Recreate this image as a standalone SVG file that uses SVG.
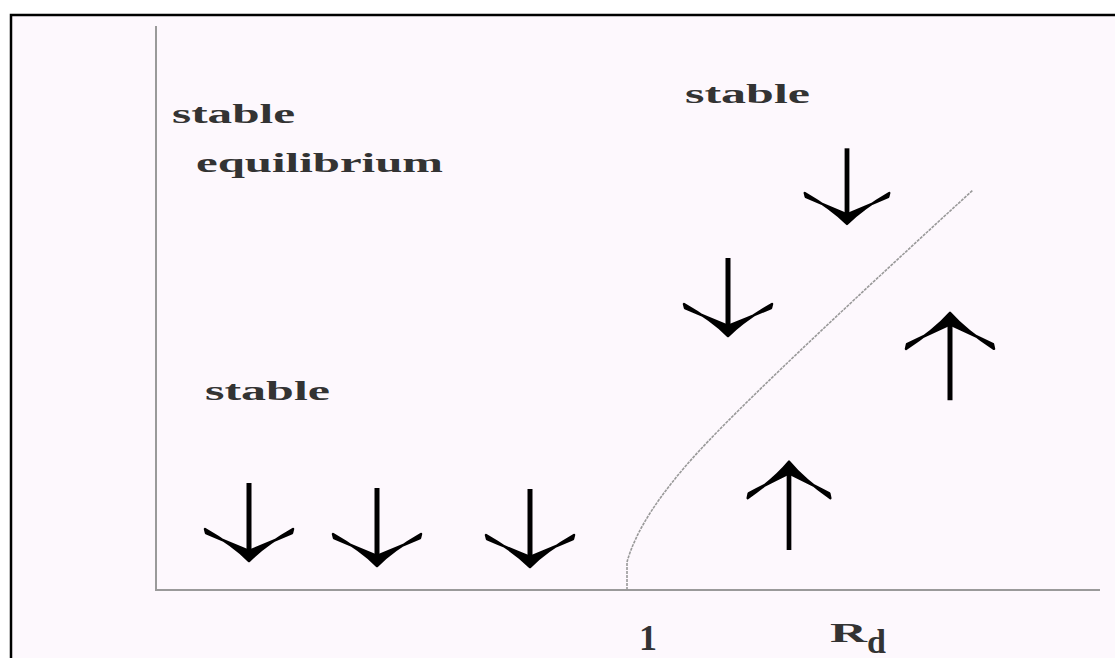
<svg xmlns="http://www.w3.org/2000/svg" xmlns:xlink="http://www.w3.org/1999/xlink" width="1115" height="658" viewBox="0 0 1115 658">
<style>
.lbl{font-family:"Liberation Serif","DejaVu Serif",serif;font-weight:bold;fill:#333}
.axis{stroke:#9a9a9a;stroke-width:2;fill:none}
.curve{stroke:#999;stroke-width:1.6;fill:none;stroke-dasharray:3 1}
.shaft{stroke:#000;stroke-width:5}
</style>
<defs>
<g id="down">
<line class="shaft" x1="0" y1="-77" x2="0" y2="-8"/>
<path d="M0,1 Q-16,-15 -44,-31 L-43,-27 Q-22,-18 0,-9 Q22,-18 43,-27 L44,-31 Q16,-15 0,1 Z" fill="#000" stroke="#000" stroke-width="2.5" stroke-linejoin="round"/>
</g>
</defs>
<rect x="0" y="0" width="1115" height="658" fill="#fff"/>
<rect x="11" y="15" width="1110" height="660" fill="#fdf8fd" stroke="#000" stroke-width="2.5"/>
<g id="axes">
<line class="axis" x1="156" y1="26" x2="156" y2="591"/>
<line class="axis" x1="155" y1="590" x2="1100" y2="590"/>
</g>
<g id="curve">
<path class="curve" d="M627,590 L627,562 Q640,515 700,450 T973,190"/>
</g>
<g id="labels">
<text class="lbl" x="172" y="123" font-size="27" textLength="123" lengthAdjust="spacingAndGlyphs">stable</text>
<text class="lbl" x="196" y="172" font-size="27" textLength="247" lengthAdjust="spacingAndGlyphs">equilibrium</text>
<text class="lbl" x="685" y="103" font-size="27" textLength="125" lengthAdjust="spacingAndGlyphs">stable</text>
<text class="lbl" x="205" y="400" font-size="27" textLength="125" lengthAdjust="spacingAndGlyphs">stable</text>
<text class="lbl" x="639" y="650" font-size="36">1</text>
<text class="lbl" x="830" y="642" font-size="28" textLength="37" lengthAdjust="spacingAndGlyphs">R</text>
<text class="lbl" x="867" y="653" font-size="34">d</text>
</g>
<g id="arrows">
<use xlink:href="#down" transform="translate(249,560)"/>
<use xlink:href="#down" transform="translate(377,565)"/>
<use xlink:href="#down" transform="translate(530,566)"/>
<use xlink:href="#down" transform="translate(847,223) scale(0.96,0.97)"/>
<use xlink:href="#down" transform="translate(728,335)"/>
<use xlink:href="#down" transform="translate(950,314) scale(1,-1.12)"/>
<use xlink:href="#down" transform="translate(789,463) scale(0.94,-1.13)"/>
</g>
</svg>
